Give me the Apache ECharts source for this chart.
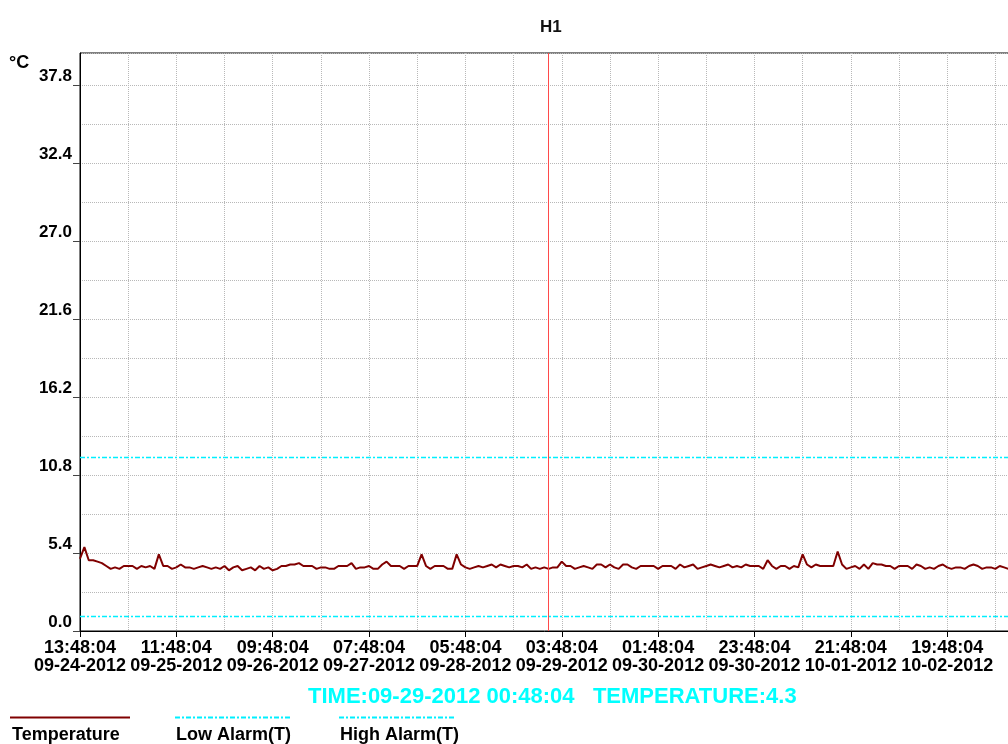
<!DOCTYPE html>
<html>
<head>
<meta charset="utf-8">
<title>H1</title>
<script src="https://cdn.jsdelivr.net/npm/echarts@6/dist/echarts.min.js"></script>
<style>
  html, body { margin: 0; padding: 0; background: #fff; }
  #chart { width: 1008px; height: 744px; }
</style>
</head>
<body>
<div id="chart"></div>
<script>
// hourly readings starting 09-24-2012 13:48:04
const temps = [
  5.0, 5.8, 4.9, 4.9, 4.8, 4.7, 4.5, 4.3, 4.4, 4.3,
  4.5, 4.5, 4.5, 4.3, 4.5, 4.4, 4.5, 4.3, 5.3, 4.5,
  4.5, 4.3, 4.4, 4.6, 4.4, 4.4, 4.3, 4.4, 4.5, 4.4,
  4.3, 4.4, 4.3, 4.5, 4.2, 4.4, 4.5, 4.2, 4.3, 4.4,
  4.2, 4.5, 4.3, 4.4, 4.2, 4.3, 4.5, 4.5, 4.6, 4.6,
  4.7, 4.5, 4.5, 4.5, 4.3, 4.4, 4.4, 4.3, 4.3, 4.5,
  4.5, 4.5, 4.7, 4.3, 4.4, 4.4, 4.5, 4.3, 4.3, 4.6,
  4.8, 4.5, 4.5, 4.5, 4.3, 4.5, 4.5, 4.5, 5.3, 4.5,
  4.3, 4.5, 4.5, 4.5, 4.3, 4.3, 5.3, 4.6, 4.4, 4.3,
  4.4, 4.5, 4.4, 4.5, 4.6, 4.4, 4.6, 4.5, 4.4, 4.5,
  4.5, 4.4, 4.6, 4.3, 4.4, 4.3, 4.4, 4.3, 4.4, 4.4,
  4.8, 4.5, 4.5, 4.3, 4.4, 4.5, 4.4, 4.3, 4.6, 4.6,
  4.4, 4.6, 4.4, 4.3, 4.6, 4.6, 4.4, 4.3, 4.5, 4.5,
  4.5, 4.5, 4.3, 4.5, 4.5, 4.5, 4.3, 4.6, 4.4, 4.5,
  4.6, 4.3, 4.4, 4.5, 4.6, 4.5, 4.4, 4.5, 4.6, 4.4,
  4.5, 4.4, 4.6, 4.5, 4.5, 4.5, 4.3, 4.9, 4.5, 4.3,
  4.5, 4.5, 4.3, 4.5, 4.4, 5.3, 4.6, 4.4, 4.6, 4.5,
  4.5, 4.5, 4.5, 5.5, 4.6, 4.3, 4.4, 4.5, 4.3, 4.6,
  4.3, 4.7, 4.6, 4.6, 4.5, 4.5, 4.3, 4.5, 4.5, 4.5,
  4.3, 4.6, 4.5, 4.3, 4.4, 4.3, 4.5, 4.6, 4.4, 4.3,
  4.4, 4.4, 4.3, 4.5, 4.6, 4.5, 4.3, 4.4, 4.4, 4.3,
  4.5, 4.4, 4.3
];
const stepHours = 1;

// x tick labels, one every 22 hours
const tickTimes = ["13:48:04", "11:48:04", "09:48:04", "07:48:04", "05:48:04",
  "03:48:04", "01:48:04", "23:48:04", "21:48:04", "19:48:04"];
const tickDates = ["09-24-2012", "09-25-2012", "09-26-2012", "09-27-2012", "09-28-2012",
  "09-29-2012", "09-30-2012", "09-30-2012", "10-01-2012", "10-02-2012"];

const lowAlarm = 1.0;
const highAlarm = 12.0;

// cursor readout
const cursorHour = 107;
const cursorTime = "09-29-2012 00:48:04";

const xMax = 216;
const FONT = "'Liberation Sans', Arial, sans-serif";

const chart = echarts.init(document.getElementById("chart"));

const tempData = temps.map((v, i) => [i * stepHours, v]);
const cursorTemp = temps[Math.round(cursorHour / stepHours)];

const isMultiple = (v, step) => Math.abs(v / step - Math.round(v / step)) < 1e-6;

const alarmLine = { color: "#00f0ff", width: 1.5, type: [5, 2, 2, 2] };

const option = {
  animation: false,
  backgroundColor: "#fff",
  title: {
    text: "H1",
    left: 535,
    top: 14,
    textStyle: { fontFamily: FONT, fontSize: 17, fontWeight: "bold", color: "#111" },
  },
  grid: {
    left: 80,
    top: 53,
    right: -18,
    bottom: 113,
    show: true,
    borderColor: "#000",
    borderWidth: 1,
    outerBoundsMode: "none",
  },
  xAxis: [
    {
      // grid lines every 11 hours
      type: "value",
      min: 0,
      max: xMax,
      interval: 11,
      axisLine: { show: true, onZero: false, lineStyle: { color: "#000", width: 1 } },
      axisTick: { show: false },
      axisLabel: { show: false },
      splitLine: { show: true, lineStyle: { type: "dotted", color: "#b8b8b8", width: 1 } },
    },
    {
      // labelled ticks every 22 hours
      type: "value",
      position: "bottom",
      min: 0,
      max: xMax,
      interval: 22,
      axisLine: { show: false, onZero: false },
      axisTick: { show: true, length: 6, lineStyle: { color: "#000" } },
      splitLine: { show: false },
      axisLabel: {
        show: true,
        showMaxLabel: false,
        margin: 8,
        fontFamily: FONT,
        fontSize: 18,
        fontWeight: "bold",
        color: "#000",
        lineHeight: 18,
        formatter: (v) => {
          if (!isMultiple(v, 22)) return "";
          const k = Math.round(v / 22);
          return tickTimes[k] === undefined ? "" : tickTimes[k] + "\n" + tickDates[k];
        },
      },
    },
  ],
  yAxis: [
    {
      type: "value",
      min: 0,
      max: 40,
      interval: 2.7,
      axisLine: { show: true, lineStyle: { color: "#000", width: 1 } },
      axisTick: { show: false },
      axisLabel: { show: false },
      splitLine: { show: true, lineStyle: { type: "dotted", color: "#b8b8b8", width: 1 } },
    },
    {
      type: "value",
      position: "left",
      offset: 0,
      min: 0,
      max: 40,
      interval: 5.4,
      axisLine: { show: false },
      axisTick: { show: true, length: 7, lineStyle: { color: "#444" } },
      splitLine: { show: false },
      axisLabel: {
        showMaxLabel: false,
        margin: 8,
        fontFamily: FONT,
        fontSize: 17,
        fontWeight: "bold",
        color: "#000",
        verticalAlign: "bottom",
        formatter: (v) => (isMultiple(v, 5.4) ? v.toFixed(1) : ""),
      },
    },
  ],
  series: [
    {
      name: "Low Alarm(T)",
      type: "line",
      xAxisIndex: 0,
      yAxisIndex: 0,
      data: [[0, lowAlarm], [xMax, lowAlarm]],
      showSymbol: false,
      silent: true,
      lineStyle: alarmLine,
    },
    {
      name: "High Alarm(T)",
      type: "line",
      xAxisIndex: 0,
      yAxisIndex: 0,
      data: [[0, highAlarm], [xMax, highAlarm]],
      showSymbol: false,
      silent: true,
      lineStyle: alarmLine,
    },
    {
      name: "Temperature",
      type: "line",
      xAxisIndex: 0,
      yAxisIndex: 0,
      data: tempData,
      showSymbol: false,
      lineStyle: { color: "#800000", width: 2 },
      markLine: {
        silent: true,
        symbol: "none",
        label: { show: false },
        lineStyle: { color: "#ff4a4a", type: "solid", width: 1 },
        data: [{ xAxis: cursorHour }],
      },
    },
  ],
  graphic: [
    {
      type: "text",
      left: 9,
      top: 54,
      style: { text: "°C", font: "bold 18px " + FONT, fill: "#000" },
    },
    {
      type: "text",
      left: 308,
      top: 686,
      style: {
        text: "TIME:" + cursorTime + "   TEMPERATURE:" + cursorTemp.toFixed(1),
        font: "bold 22px " + FONT,
        fill: "#00ffff",
      },
    },
    // legend
    { type: "line", shape: { x1: 10, y1: 717.5, x2: 130, y2: 717.5 }, style: { stroke: "#800000", lineWidth: 2 } },
    { type: "line", shape: { x1: 175, y1: 717.5, x2: 292, y2: 717.5 }, style: { stroke: "#00f0ff", lineWidth: 2, lineDash: [5, 2, 2, 2] } },
    { type: "line", shape: { x1: 339, y1: 717.5, x2: 456, y2: 717.5 }, style: { stroke: "#00f0ff", lineWidth: 2, lineDash: [5, 2, 2, 2] } },
    { type: "text", left: 12, top: 726, style: { text: "Temperature", font: "bold 18px " + FONT, fill: "#000" } },
    { type: "text", left: 176, top: 726, style: { text: "Low Alarm(T)", font: "bold 18px " + FONT, fill: "#000" } },
    { type: "text", left: 340, top: 726, style: { text: "High Alarm(T)", font: "bold 18px " + FONT, fill: "#000" } },
  ],
};

chart.setOption(option);
window.addEventListener("resize", () => chart.resize());
</script>
</body>
</html>
